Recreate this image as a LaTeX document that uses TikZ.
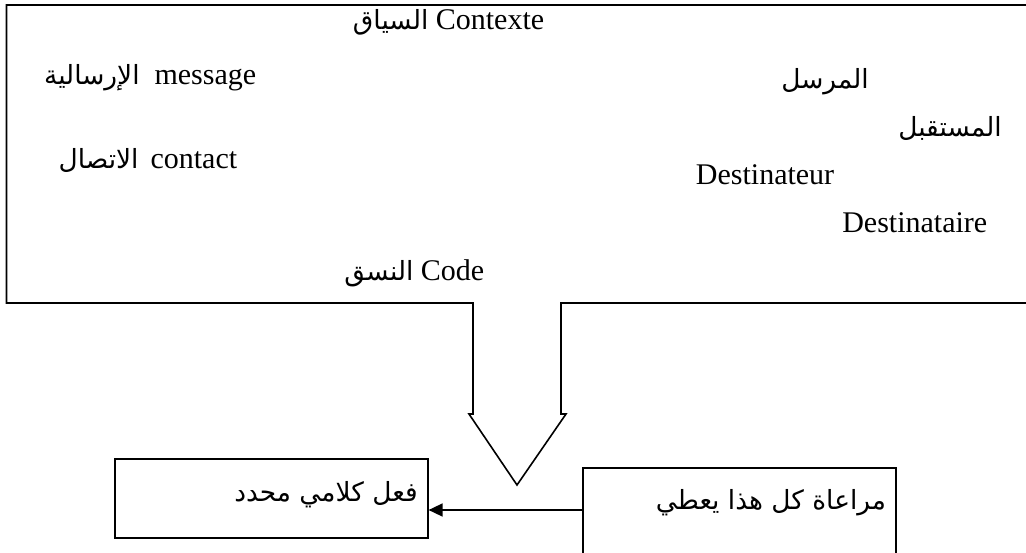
\documentclass[tikz,border=0pt]{standalone}
\usepackage{fontspec}
\setmainfont{Liberation Serif}
\newfontfamily\ar[Script=Arabic,Scale=0.88]{DejaVu Sans}
\TeXXeTstate=1
\usetikzlibrary{arrows.meta}
\begin{document}
\begin{tikzpicture}[x=1pt,y=-1pt,line width=1.6pt,
  txt/.style={inner sep=0pt,font=\fontsize{30}{34}\selectfont,anchor=east},
  box/.style={draw,line width=1.6pt,inner sep=0pt,anchor=north west,minimum width=313pt}]
\useasboundingbox (0,0) rectangle (1026,552);
\clip (0,0) rectangle (1026,552);
% callout frame
\draw[line join=miter] (1040,5) -- (6.5,5) -- (6.5,303) -- (473,303) -- (473,414) -- (469,414)
  -- (517,485) -- (566,414) -- (561,414) -- (561,303) -- (1040,303);
% texts in the frame
\node[txt] (ctx) at (545,22) {{\ar\beginR السياق\endR} Contexte};
\node[txt] (msg) at (257,78) {{\ar\beginR الإرسالية\endR}\hspace{0.5em}message};
\node[txt] (cnt) at (238,160) {{\ar\beginR الاتصال\endR}\hspace{0.4em}contact};
\node[txt,anchor=center] (mrs) at (825,82) {\ar\beginR المرسل\endR};
\node[txt,anchor=center] (mst) at (950,128) {\ar\beginR المستقبل\endR};
\node[txt] (dtr) at (835,175) {Destinateur};
\node[txt] (dta) at (988,223) {Destinataire};
\node[txt] (cod) at (485,273) {{\ar\beginR النسق\endR} Code};
% bottom boxes
\node[box,minimum height=79pt] (lbox) at (114,458) {};
\node[box,minimum height=130pt] (rbox) at (582,467) {};
\node[txt,anchor=center] (ltx) at (326,495) {\ar\beginR فعل كلامي محدد\endR};
\node[txt,anchor=center] (rtx) at (771,503) {\ar\beginR مراعاة كل هذا يعطي\endR};
\coordinate (ay) at (0,510);
\draw[-{Triangle[length=14pt,width=13pt]}] (rbox.west |- ay) -- (lbox.east |- ay);
\end{tikzpicture}
\end{document}
